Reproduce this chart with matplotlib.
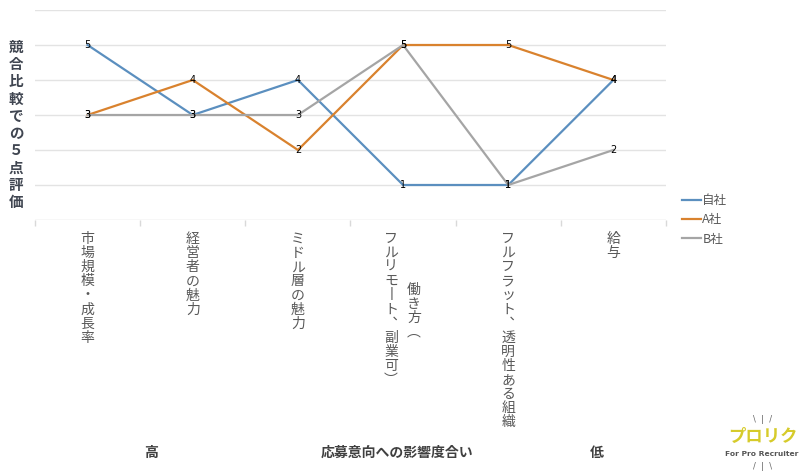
import matplotlib
matplotlib.use("Agg")
import matplotlib.pyplot as plt
from matplotlib.lines import Line2D

plt.rcParams['font.family'] = ['Noto Sans CJK JP', 'DejaVu Sans']

categories = ["市場規模・成長率", "経営者の魅力", "ミドル層の魅力",
              "働き方（フルリモート、副業可）", "フルフラット、透明性ある組織", "給与"]
series_names = ["自社", "A社", "B社"]
jisha = [5, 3, 4, 1, 1, 4]
a_sha = [3, 4, 2, 5, 5, 4]
b_sha = [3, 3, 3, 5, 1, 2]
y_title = "競合比較での５点評価"
x_title = "応募意向への影響度合い"
high_label = "高"
low_label = "低"

colors = ["#5b8fbf", "#d9822e", "#a5a5a5"]
text_gray = "#595959"

fig = plt.figure(figsize=(8, 4.73), dpi=100)
ax = fig.add_axes([35/800, 1-220/473, (666-35)/800, 210/473])
ax.set_xlim(-0.5, len(categories)-0.5)
ax.set_ylim(0, 6)

for y in range(1, 7):
    ax.axhline(y, color="#e3e3e3", lw=1.0, zorder=0)
ax.axhline(0, color="#d9d9d9", lw=1.0, zorder=0)

for s in ax.spines.values():
    s.set_visible(False)
ax.set_yticks([])
ax.set_xticks([i-0.5 for i in range(len(categories)+1)])
ax.set_xticklabels([])
ax.tick_params(axis='x', length=4, color="#d9d9d9", width=1)

xs = list(range(len(categories)))
data = [jisha, a_sha, b_sha]
for idx in [0, 1, 2]:
    ax.plot(xs, data[idx], color=colors[idx], lw=1.6, zorder=2+idx*0.1,
            solid_joinstyle='miter')
for idx in [0, 1, 2]:
    for x, v in zip(xs, data[idx]):
        ax.text(x, v, str(v), ha='center', va='center', fontsize=7,
                color="black", family=['DejaVu Sans'], zorder=5)

vert_map = {"（": "︵", "）": "︶", "、": "︑", "ー": "丨"}

def vlabel(text, x, start_px, dx_px=0):
    for k, ch in enumerate(text):
        c = vert_map.get(ch, ch)
        ax.annotate(c, xy=(x, 0), xycoords=('data', 'axes fraction'),
                    xytext=(dx_px*0.72, -(start_px + k*14.1)*0.72),
                    textcoords='offset points', ha='center', va='top',
                    fontsize=10, color=text_gray, annotation_clip=False)

for i, cat in enumerate(categories):
    if cat.startswith("働き方"):
        vlabel("フルリモート、副業可）", i, 12, -12)
        vlabel("働き方（", i, 63, 11)
    else:
        vlabel(cat, i, 12)

# y title (vertical stacked)
for k, ch in enumerate(y_title):
    fig.text(16/800, 1-(47 + k*17.2)/473, ch, ha='center', va='center',
             fontsize=10.5, fontweight='bold', color="#404651")

fig.text(151/800, 1-453/473, high_label, ha='center', va='center',
         fontsize=10, fontweight='bold', color="#404040")
fig.text(397/800, 1-453/473, x_title, ha='center', va='center',
         fontsize=10, fontweight='bold', color="#404040")
fig.text(597/800, 1-453/473, low_label, ha='center', va='center',
         fontsize=10, fontweight='bold', color="#404040")

# legend
handles = [Line2D([0], [0], color=c, lw=1.6) for c in colors]
leg = fig.legend(handles, series_names, loc='upper left',
                 bbox_to_anchor=(671/800, 1-183/473), frameon=False,
                 handlelength=1.5, handletextpad=0.1, labelspacing=0.5,
                 fontsize=9)
for t in leg.get_texts():
    t.set_color(text_gray)

# logo
fig.text(763/800, 1-437/473, "プロリク", ha='center', va='center',
         fontsize=12.5, fontweight='bold', color="#d6cb2a")
fig.text(762/800, 1-454/473, "For Pro Recruiter", ha='center', va='center',
         fontsize=5.4, fontweight='bold', color="#555555", family=['DejaVu Sans'])
fig.text(763/800, 1-420/473, "\\  |  /", ha='center', va='center',
         fontsize=6, color="#666666", family=['DejaVu Sans'])
fig.text(763/800, 1-466/473, "/  |  \\", ha='center', va='center',
         fontsize=6, color="#666666", family=['DejaVu Sans'])

fig.savefig("out.png", dpi=100, facecolor="white")
